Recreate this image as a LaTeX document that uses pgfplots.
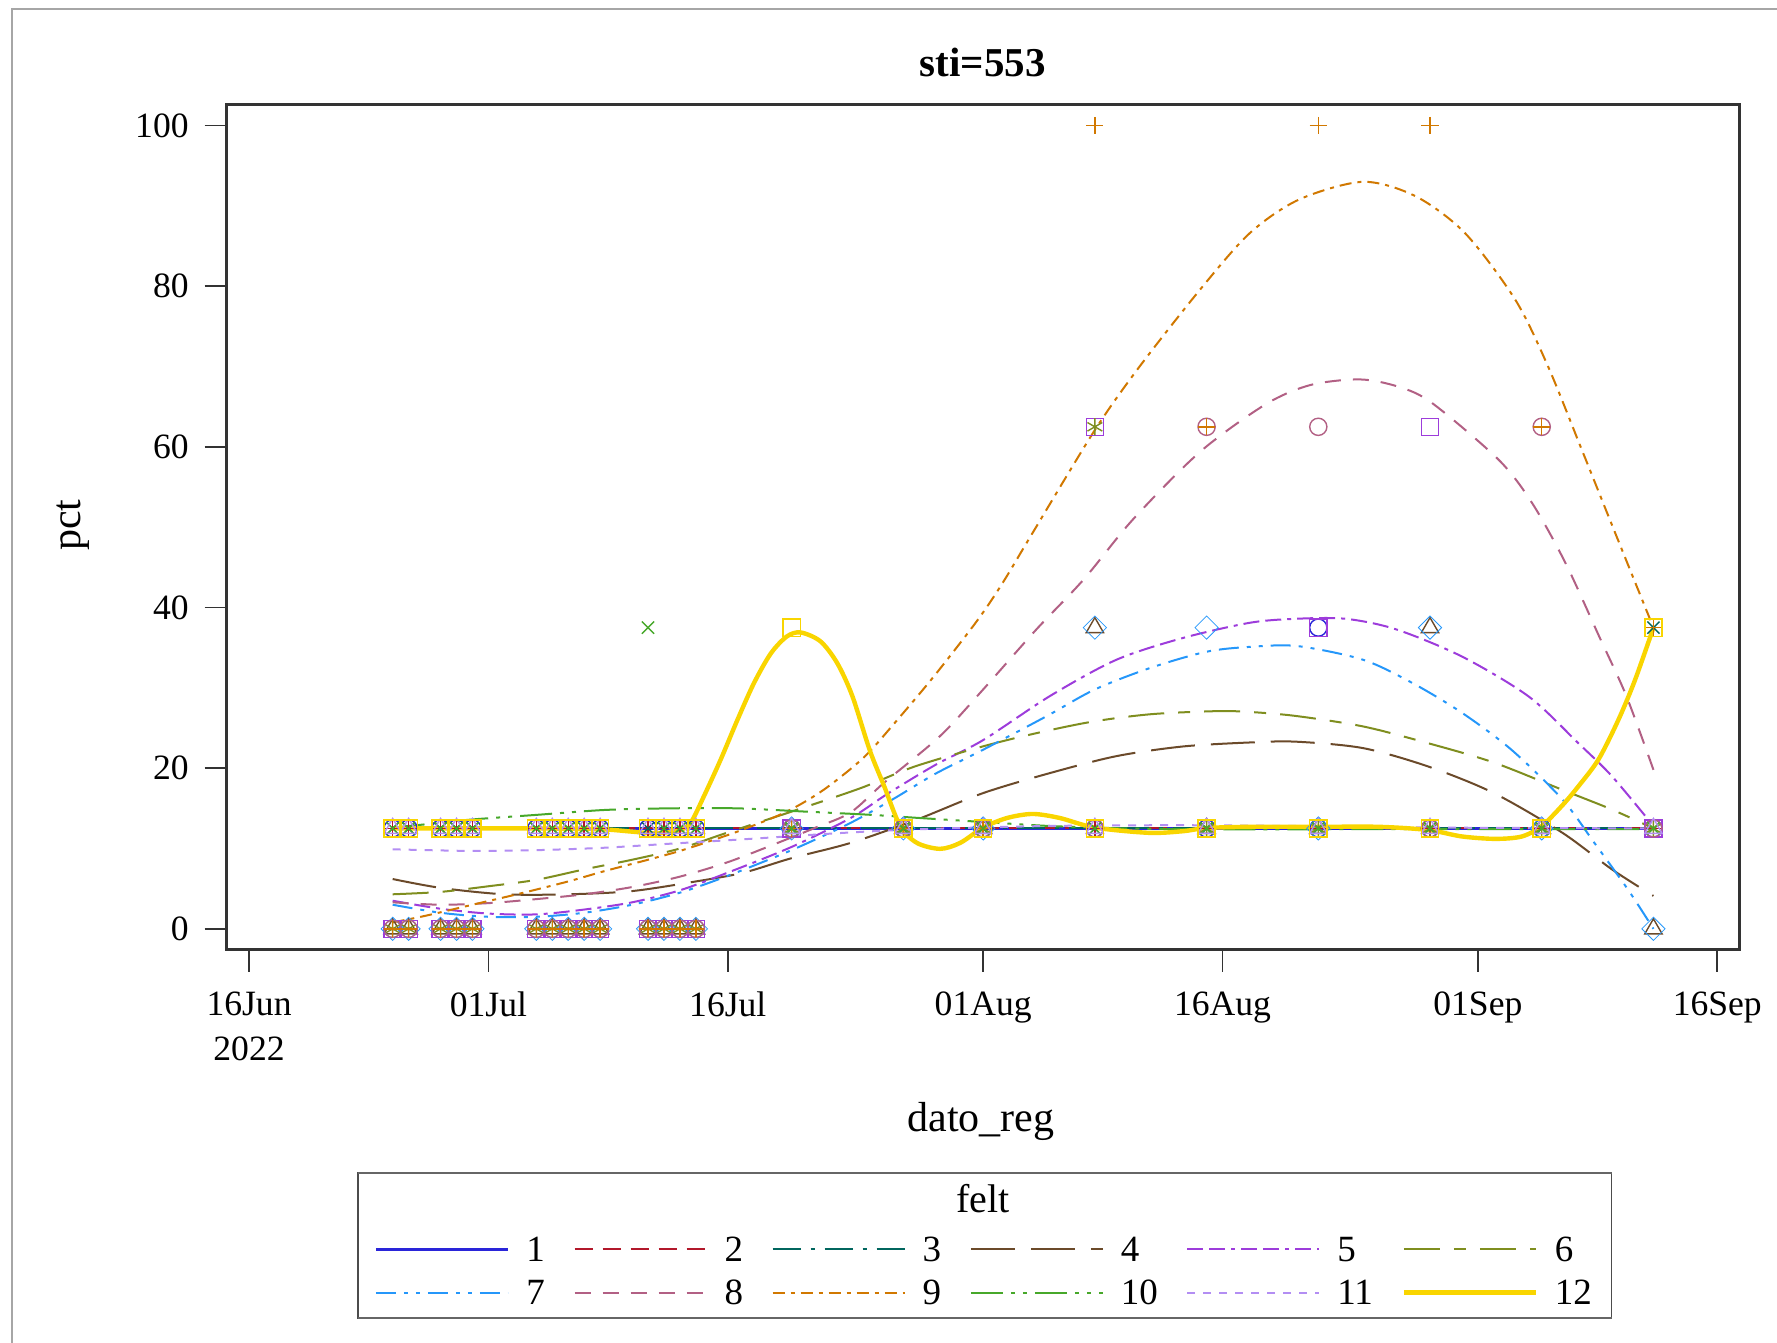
\documentclass[border=0pt]{standalone}
\usepackage{fontspec}
\setmainfont{Liberation Serif}
\usepackage{pgfplots}
\pgfplotsset{compat=1.18}

\definecolor{c1}{HTML}{2A25D9}
\definecolor{c2}{HTML}{B2182B}
\definecolor{c3}{HTML}{01665E}
\definecolor{c4}{HTML}{6B4A2A}
\definecolor{c5}{HTML}{9D3CDB}
\definecolor{c6}{HTML}{7F8E1F}
\definecolor{c7}{HTML}{2597FA}
\definecolor{c8}{HTML}{B26084}
\definecolor{c9}{HTML}{D17800}
\definecolor{c10}{HTML}{47A82A}
\definecolor{c11}{HTML}{B38EF3}
\definecolor{c12}{HTML}{F9D500}

\pgfplotsset{
 s1/.style={draw=c1, solid, line width=1.5pt},
 s2/.style={draw=c2, line width=1pt, dash pattern=on 9pt off 5pt},
 s3/.style={draw=c3, line width=1pt, dash pattern=on 14pt off 5pt on 2pt off 5pt},
 s4/.style={draw=c4, line width=1pt, dash pattern=on 22pt off 8pt},
 s5/.style={draw=c5, line width=1pt, dash pattern=on 8pt off 3pt on 8pt off 3pt on 2pt off 3pt},
 s6/.style={draw=c6, line width=1pt, dash pattern=on 18pt off 7pt on 6pt off 7pt},
 s7/.style={draw=c7, line width=1pt, dash pattern=on 10pt off 4pt on 2pt off 4pt on 2pt off 4pt},
 s8/.style={draw=c8, line width=1pt, dash pattern=on 8pt off 6pt},
 s9/.style={draw=c9, line width=1pt, dash pattern=on 6pt off 3pt on 2pt off 3pt},
 s10/.style={draw=c10, line width=1pt, dash pattern=on 16pt off 4pt on 2pt off 4pt on 2pt off 4pt},
 s11/.style={draw=c11, line width=1pt, dash pattern=on 4pt off 4pt},
 s12/.style={draw=c12, solid, line width=2.2pt},
 mk/.style={only marks, forget plot, mark size=4.3pt, mark options={solid, line width=0.7pt, fill=none}},
 cv/.style={no marks, forget plot, smooth, tension=0.5},
}

\begin{document}
\begin{tikzpicture}
\path[use as bounding box] (0pt,0pt) rectangle (888.5pt,-671.5pt);
\draw[color=black!35, line width=1pt] (5.75pt,-671.5pt) -- (5.75pt,-4.6pt) -- (888.5pt,-4.6pt);

\begin{axis}[
 at={(113.35pt,-474.85pt)}, anchor=south west,
 width=756.45pt, height=422.7pt, scale only axis,
 xmin=-1.4, xmax=93.4, ymin=-2.6, ymax=102.65,
 xtick={0,15,30,46,61,77,92},
 xticklabels={{16Jun\\2022},01Jul,16Jul,01Aug,16Aug,01Sep,16Sep},
 ytick={0,20,40,60,80,100},
 /pgf/number format/assume math mode=true,
 xticklabel style={align=center, font=\fontsize{17.8}{22.7}\selectfont, yshift=-6.5pt},
 yticklabel style={font=\fontsize{17.8}{21}\selectfont, xshift=-4.5pt},
 tick align=outside, major tick length=11pt, tick pos=left,
 axis line style={draw=black!80, line width=1.3pt},
 tick style={draw=black!80, line width=0.9pt},
 legend columns=6,
 legend style={at={(0.0974,-0.3392)}, anchor=north west, draw=none, fill=none,
   inner xsep=0pt, inner ysep=0pt,
   font=\fontsize{18.5}{18.5}\selectfont, row sep=9.5pt,
   nodes={inner sep=0pt, text depth=0pt},
   /tikz/every even column/.append style={column sep=14.3pt},
   /tikz/every odd column/.append style={column sep=8.5pt}},
 legend cell align=left,
 legend image code/.code={\draw[#1] (0pt,0pt) -- (66pt,0pt);},
]

% ---------- markers ----------
% felt 1 circle
\addplot[mk, mark=o, color=c1] coordinates {(9,12.5)(10,12.5)(12,12.5)(13,12.5)(14,12.5)(18,12.5)(19,12.5)(20,12.5)(21,12.5)(22,12.5)(25,12.5)(26,12.5)(27,12.5)(28,12.5)(34,12.5)(41,12.5)(46,12.5)(53,12.5)(60,12.5)(67,12.5)(74,12.5)(81,12.5)(88,12.5)(67,37.5)};
% felt 2 plus
\addplot[mk, mark=+, color=c2] coordinates {(9,12.5)(10,12.5)(12,12.5)(13,12.5)(14,12.5)(18,12.5)(19,12.5)(20,12.5)(21,12.5)(22,12.5)(25,12.5)(26,12.5)(27,12.5)(28,12.5)(34,12.5)(41,12.5)(46,12.5)(53,12.5)(60,12.5)(67,12.5)(74,12.5)(81,12.5)(88,12.5)};
% felt 3 x
\addplot[mk, mark=x, color=c3] coordinates {(9,12.5)(10,12.5)(12,12.5)(13,12.5)(14,12.5)(18,12.5)(19,12.5)(20,12.5)(21,12.5)(22,12.5)(25,12.5)(26,12.5)(27,12.5)(28,12.5)(34,12.5)(41,12.5)(46,12.5)(53,12.5)(60,12.5)(67,12.5)(74,12.5)(81,12.5)(88,37.5)};
% felt 4 triangle
\addplot[mk, mark=triangle, mark size=5pt, color=c4] coordinates {(9,0)(10,0)(12,0)(13,0)(14,0)(18,0)(19,0)(20,0)(21,0)(22,0)(25,0)(26,0)(27,0)(28,0)(34,12.5)(41,12.5)(46,12.5)(53,37.5)(60,12.5)(67,12.5)(74,37.5)(81,12.5)(88,0)};
% felt 5 square
\addplot[mk, mark=square, color=c5] coordinates {(9,0)(10,0)(12,0)(13,0)(14,0)(18,0)(19,0)(20,0)(21,0)(22,0)(25,0)(26,0)(27,0)(28,0)(34,12.5)(41,12.5)(46,12.5)(53,62.5)(60,12.5)(67,37.5)(74,62.5)(81,12.5)(88,12.5)};
% felt 6 asterisk
\addplot[mk, mark=asterisk, color=c6] coordinates {(9,0)(10,0)(12,0)(13,0)(14,0)(18,0)(19,0)(20,0)(21,0)(22,0)(25,0)(26,0)(27,0)(28,0)(34,12.5)(41,12.5)(46,12.5)(53,62.5)(60,12.5)(67,12.5)(74,12.5)(81,12.5)(88,12.5)};
% felt 7 diamond
\addplot[mk, mark=square, mark size=4.1pt, mark options={rotate=45}, color=c7] coordinates {(9,0)(10,0)(12,0)(13,0)(14,0)(18,0)(19,0)(20,0)(21,0)(22,0)(25,0)(26,0)(27,0)(28,0)(34,12.5)(41,12.5)(46,12.5)(53,37.5)(60,37.5)(67,12.5)(74,37.5)(81,12.5)(88,0)};
% felt 8 circle
\addplot[mk, mark=o, color=c8] coordinates {(9,0)(10,0)(12,0)(13,0)(14,0)(18,0)(19,0)(20,0)(21,0)(22,0)(25,0)(26,0)(27,0)(28,0)(34,12.5)(41,12.5)(46,12.5)(53,12.5)(60,62.5)(67,62.5)(74,12.5)(81,62.5)(88,12.5)};
% felt 9 plus
\addplot[mk, mark=+, color=c9] coordinates {(9,0)(10,0)(12,0)(13,0)(14,0)(18,0)(19,0)(20,0)(21,0)(22,0)(25,0)(26,0)(27,0)(28,0)(34,12.5)(41,12.5)(46,12.5)(53,100)(60,62.5)(67,100)(74,100)(81,62.5)(88,37.5)};
% felt 10 x
\addplot[mk, mark=x, color=c10] coordinates {(9,12.5)(10,12.5)(12,12.5)(13,12.5)(14,12.5)(18,12.5)(19,12.5)(20,12.5)(21,12.5)(22,12.5)(25,37.5)(26,12.5)(27,12.5)(28,12.5)(34,12.5)(41,12.5)(46,12.5)(53,12.5)(60,12.5)(67,12.5)(74,12.5)(81,12.5)(88,12.5)};
% felt 11 triangle
\addplot[mk, mark=triangle, mark size=5pt, color=c11] coordinates {(9,12.5)(10,12.5)(12,12.5)(13,12.5)(14,12.5)(18,12.5)(19,12.5)(20,12.5)(21,12.5)(22,12.5)(25,12.5)(26,12.5)(27,12.5)(28,12.5)(34,12.5)(41,12.5)(46,12.5)(53,12.5)(60,12.5)(67,12.5)(74,12.5)(81,12.5)(88,12.5)};
% felt 12 square
\addplot[mk, mark=square, color=c12] coordinates {(9,12.5)(10,12.5)(12,12.5)(13,12.5)(14,12.5)(18,12.5)(19,12.5)(20,12.5)(21,12.5)(22,12.5)(25,12.5)(26,12.5)(27,12.5)(28,12.5)(34,37.5)(41,12.5)(46,12.5)(53,12.5)(60,12.5)(67,12.5)(74,12.5)(81,12.5)(88,37.5)};

% ---------- fitted curves ----------
\addplot[cv, s1] coordinates {(9,12.5)(88,12.5)};
\addplot[cv, s2] coordinates {(9,12.5)(88,12.5)};
\addplot[cv, s3] coordinates {(9,12.5)(88,12.5)};
\addplot[cv, s4] coordinates {(9,6.2)(12,5.1)(16,4.3)(20,4.3)(24,4.7)(28,5.9)(31,7.0)(34,8.8)(37.7,10.7)(41.85,13.6)(46,16.9)(50.2,19.4)(54.35,21.5)(58.5,22.7)(62.7,23.2)(65.6,23.3)(69.8,22.5)(73.9,20.2)(78,16.9)(82.3,11.95)(85.4,7.4)(88,4.1)};
\addplot[cv, s5] coordinates {(9,3.5)(12,2.5)(15,1.9)(18,1.8)(21,2.4)(24,3.3)(27,4.8)(30,7.0)(34,10.2)(37.7,13.8)(40,16.8)(43,20.4)(46,23.5)(50.2,29.0)(54.35,33.5)(58.5,36.2)(62.7,38.1)(65.6,38.6)(68.7,38.6)(71.85,37.3)(76,33.9)(80.2,28.9)(83.3,23.1)(85.4,19.0)(88,12.8)};
\addplot[cv, s6] coordinates {(9,4.3)(12,4.6)(15,5.3)(18,6.1)(21,7.4)(24,8.6)(27,10.0)(30,12.0)(33.7,14.4)(38.3,17.5)(41.85,20.3)(47.1,23.3)(52.3,25.6)(56.4,26.7)(60.6,27.1)(62.7,27.0)(65.6,26.5)(69.8,25.2)(73.9,23.1)(78,20.7)(82.3,17.3)(85.4,14.85)(88,12.5)};
\addplot[cv, s7] coordinates {(9,3.0)(12,2.0)(15,1.5)(18,1.5)(21,2.0)(24,3.0)(27,4.5)(30,6.6)(34,9.8)(37.7,13.2)(40.4,16.2)(43,19.3)(46,22.3)(50,26.5)(53,29.8)(56.5,32.5)(60,34.5)(62.7,35.1)(65.7,35.2)(69.8,33.5)(72.9,30.6)(76,26.9)(79.1,22.3)(82.3,16.1)(84.3,10.7)(86.4,4.9)(88,0)};
\addplot[cv, s8] coordinates {(9,3.3)(12,3.0)(15,3.2)(18,3.7)(21,4.3)(24,5.2)(27,6.5)(30,8.3)(33,10.6)(35.5,12.6)(37.7,14.5)(39.8,18.2)(43.3,24.0)(46,29.8)(49.3,37.2)(52.3,43.5)(55.4,51.0)(59.6,59.4)(63.7,65.3)(66.5,67.7)(69.6,68.4)(72,67.5)(74.1,65.5)(78.3,58.4)(80.4,53.0)(82.5,45.5)(84.6,36.4)(86.3,29.0)(88,19.8)};
\addplot[cv, s9] coordinates {(9,0.8)(11,1.6)(14,3.0)(17,4.4)(20,5.9)(22.3,7.2)(25,8.6)(27,9.7)(29,11.0)(31,12.4)(33.7,14.6)(36,17.3)(38.5,21.3)(40.4,25.5)(42.9,31.4)(45.6,38.3)(47.2,43.0)(49.1,49.3)(53,62.1)(55.8,70.0)(59.6,79.6)(62.7,86.6)(65.8,90.8)(69.8,93.0)(73.1,91.2)(76.2,86.6)(79.35,78.3)(81.4,70.0)(83.5,59.7)(85.6,49.3)(88,37.5)};
\addplot[cv, s10] coordinates {(9,12.6)(11,13.0)(13.9,13.6)(18.1,14.2)(22.3,14.8)(26.4,15.0)(30.6,15.0)(34.8,14.6)(38.9,14.2)(42,13.8)(46,13.3)(50.2,12.8)(55,12.5)(60,12.4)(70,12.4)(80,12.4)(88,12.4)};
\addplot[cv, s11] coordinates {(9,9.9)(13.9,9.7)(18.1,9.8)(22.3,10.1)(26.4,10.6)(30.6,11.1)(33.7,11.5)(37.7,12.0)(42,12.4)(50,12.8)(58,12.9)(66,12.8)(75,12.6)(88,12.5)};
\addplot[cv, s12] coordinates {(9,12.5)(14,12.5)(18,12.5)(22,12.4)(24,12.1)(25.5,11.9)(27,12.3)(27.7,13.3)(28.5,16.5)(29.56,21.1)(30.6,26.0)(31.64,30.6)(32.7,34.3)(33.7,36.4)(34.56,36.9)(35.8,35.8)(36.85,33.1)(37.8,29.0)(38.9,22.2)(39.8,17.75)(40.8,12.8)(41.85,10.7)(43.3,9.96)(44.56,10.7)(46,12.6)(47.5,13.8)(49.1,14.3)(50.8,13.8)(53,12.6)(56.4,11.95)(58.5,12.15)(60,12.55)(62.7,12.7)(67,12.7)(70.8,12.7)(73.9,12.3)(76,11.5)(78.1,11.2)(79.76,11.5)(81,12.8)(82.26,15.3)(83.3,17.75)(84.56,21.1)(85.8,26.0)(86.85,31.0)(88,37.5)};

% ---------- legend ----------
\addlegendimage{s1}\addlegendentry{1}
\addlegendimage{s2}\addlegendentry{2}
\addlegendimage{s3}\addlegendentry{3}
\addlegendimage{s4}\addlegendentry{4}
\addlegendimage{s5}\addlegendentry{5}
\addlegendimage{s6}\addlegendentry{6}
\addlegendimage{s7}\addlegendentry{7}
\addlegendimage{s8}\addlegendentry{8}
\addlegendimage{s9}\addlegendentry{9}
\addlegendimage{s10}\addlegendentry{10}
\addlegendimage{s11}\addlegendentry{11}
\addlegendimage{s12}\addlegendentry{12}
\end{axis}

% titles and labels
\node[font=\bfseries\fontsize{20.5}{24}\selectfont] at (491.3pt,-31.2pt) {sti=553};
\node[font=\fontsize{21}{25}\selectfont] at (490.5pt,-560.5pt) {dato\_reg};
\node[font=\fontsize{21}{25}\selectfont, rotate=90] at (36.55pt,-262.65pt) {pct};
% legend frame
\draw[draw=black!70, line width=0.8pt] (179pt,-586.5pt) rectangle (805.8pt,-659pt);
\draw[draw=black!60, line width=1.2pt] (179pt,-586.5pt) -- (805.8pt,-586.5pt);
\draw[draw=black!60, line width=1.2pt] (179pt,-659pt) -- (805.8pt,-659pt);
\node[font=\fontsize{20}{24}\selectfont] at (491.5pt,-599.5pt) {felt};
\end{tikzpicture}
\end{document}
